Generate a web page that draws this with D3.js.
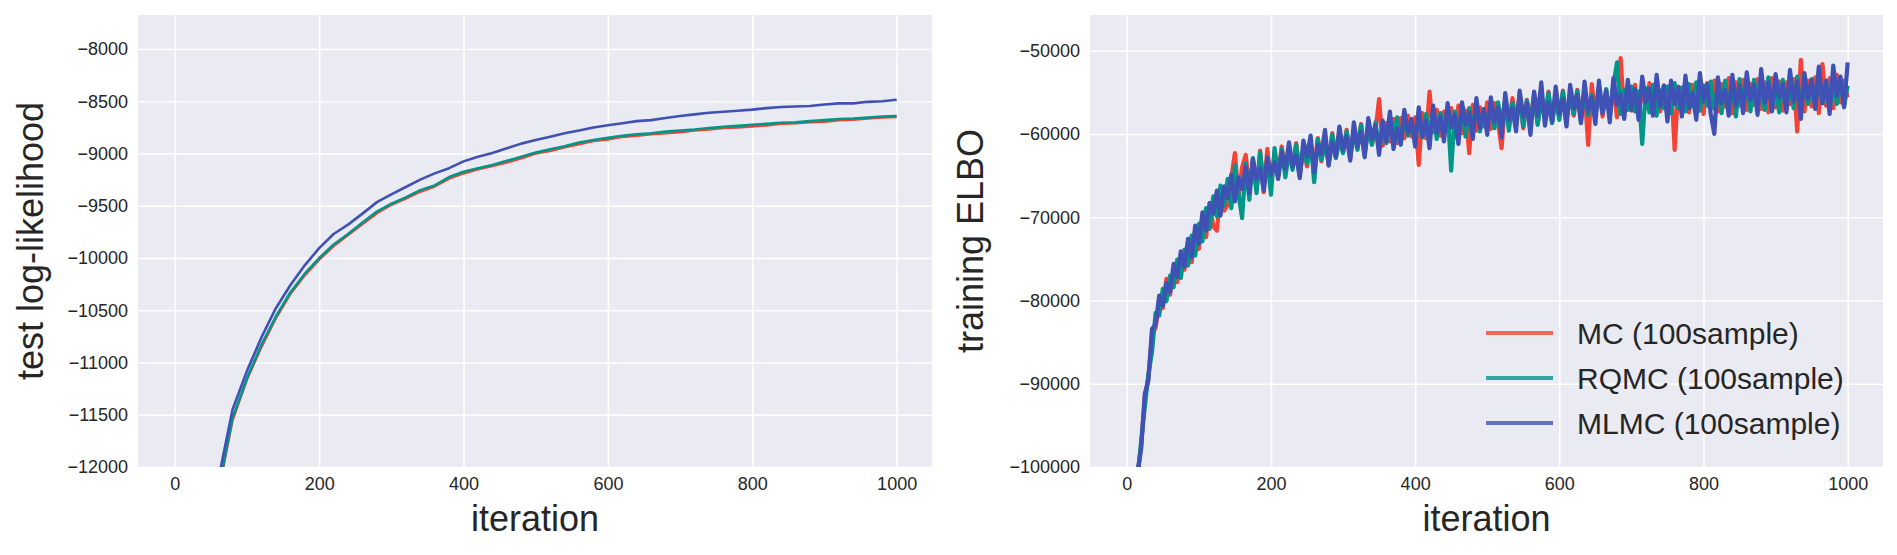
<!DOCTYPE html>
<html>
<head>
<meta charset="utf-8">
<script src="https://cdn.jsdelivr.net/npm/d3@7"></script>
<style>
body { margin: 0; background: #fff; }
svg text { font-family: "Liberation Sans", Arial, Helvetica, sans-serif; fill: #262626; }
</style>
</head>
<body>
<div id="chart"></div>
<script>

// ---- data ----
var SERIES = ["MC (100sample)", "RQMC (100sample)", "MLMC (100sample)"];
var COLORS = ["#f44336", "#009688", "#3f51b5"];
var X_TICKS = [0, 200, 400, 600, 800, 1000];

// left panel: test log-likelihood
var LL_TICKS = [-12000, -11500, -11000, -10500, -10000, -9500, -9000, -8500, -8000];
var LL_ITERS = [40, 60, 80, 100, 120, 140, 160, 180, 200, 220, 240, 260, 280, 300, 320, 340, 360, 380, 400,
  420, 440, 460, 480, 500, 520, 540, 560, 580, 600, 620, 640, 660, 680, 700, 720, 740, 760, 780, 800,
  820, 840, 860, 880, 900, 920, 940, 960, 980, 1000];
var LL_MC = [-13010, -12250, -11550, -11160, -10850, -10575, -10345, -10165, -10015, -9885, -9780, -9675, -9570,
  -9490, -9430, -9365, -9315, -9240, -9190, -9150, -9120, -9085, -9045, -9000, -8975, -8940, -8910, -8880,
  -8865, -8840, -8830, -8815, -8805, -8795, -8780, -8770, -8755, -8750, -8740, -8730, -8715, -8710, -8700,
  -8695, -8680, -8675, -8665, -8655, -8650];
var LL_RQMC = [-13000, -12230, -11530, -11150, -10830, -10560, -10330, -10150, -10000, -9870, -9770, -9660, -9555,
  -9480, -9420, -9350, -9305, -9225, -9175, -9140, -9110, -9070, -9030, -8990, -8960, -8930, -8895, -8870,
  -8850, -8830, -8815, -8805, -8790, -8780, -8770, -8755, -8745, -8735, -8725, -8715, -8705, -8700, -8690,
  -8680, -8670, -8665, -8655, -8645, -8640];
var LL_MLMC = [-12900, -12130, -11450, -11080, -10760, -10480, -10260, -10070, -9905, -9770, -9680, -9575, -9465,
  -9390, -9320, -9250, -9190, -9140, -9075, -9030, -8995, -8950, -8905, -8870, -8840, -8805, -8780, -8750,
  -8730, -8710, -8690, -8680, -8660, -8640, -8625, -8610, -8600, -8590, -8580, -8565, -8555, -8550, -8545,
  -8530, -8520, -8520, -8505, -8500, -8485];

// right panel: training ELBO, one value every 5 iterations from 10 to 1000
var ELBO_ITERS = d3.range(10, 1001, 5);
var ELBO_TICKS = [-100000, -90000, -80000, -70000, -60000, -50000];
var ELBO_MC = [
  -106300,-100900,-97400,-91600,-89200,-84100,-83300,-80200,-80900,-77400,
  -79300,-76200,-77800,-74600,-76300,-73000,-75400,-71600,-73800,-69900,
  -72400,-68300,-71100,-71600,-66900,-69200,-68500,-65200,-62300,-67600,
  -64000,-62500,-66400,-63200,-66700,-62000,-67000,-61800,-66100,-62400,
  -65100,-61500,-64600,-62300,-64100,-61100,-65000,-61600,-63900,-61200,
  -64000,-60500,-63300,-60200,-63700,-59900,-62800,-60400,-62200,-59500,
  -62900,-59400,-61700,-58800,-62300,-59100,-61200,-59600,-55800,-61400,
  -58700,-60900,-58200,-61100,-58100,-60500,-57800,-60300,-58000,-63700,
  -57500,-60500,-54900,-59800,-57100,-60200,-57300,-59700,-56900,-60400,
  -56600,-59900,-57200,-62300,-56500,-59600,-56800,-59100,-56200,-59400,
  -56300,-58700,-61700,-55800,-58900,-55700,-58600,-55400,-59300,-55900,
  -58400,-55300,-58800,-55700,-58000,-54900,-58600,-55500,-57900,-54800,
  -58300,-55100,-57800,-54700,-58200,-54600,-61300,-54000,-57600,-54400,
  -57900,-54800,-57300,-54300,-58000,-50900,-57500,-54600,-57200,-54100,
  -57600,-54400,-56900,-53900,-57700,-54000,-57300,-54200,-57800,-53800,
  -61900,-54300,-56800,-53700,-57400,-54100,-57000,-53500,-57600,-53900,
  -56900,-53600,-57300,-54000,-56700,-53300,-57500,-53800,-56600,-53500,
  -57100,-54000,-56500,-53400,-57000,-53800,-57400,-53300,-56800,-53700,
  -57200,-53800,-56400,-53400,-59700,-51100,-57300,-53600,-56700,-53200,
  -57500,-51600,-56600,-53300,-56900,-52900,-56200,-53600,-55600];
var ELBO_RQMC = [
  -105500,-101200,-96900,-92800,-88900,-86200,-81500,-81800,-78600,-80100,
  -77000,-78400,-75100,-77300,-73900,-75800,-72200,-74600,-70800,-72900,
  -68900,-71400,-67500,-69900,-66200,-68600,-65400,-68900,-63800,-67200,
  -70100,-63500,-67900,-62900,-67100,-62200,-66400,-63000,-67300,-61700,
  -64900,-61800,-65200,-62100,-64300,-61300,-64700,-61900,-63500,-60800,
  -65800,-60600,-63100,-61200,-63400,-60100,-62900,-60700,-62300,-59700,
  -62400,-59800,-61900,-58900,-62600,-59300,-61300,-58600,-61800,-59200,
  -61100,-58300,-60700,-58000,-61300,-57900,-60200,-58500,-61000,-57700,
  -60400,-57600,-60100,-57200,-60600,-57500,-59900,-57000,-64400,-57300,
  -59800,-56700,-60300,-56900,-59400,-56400,-59700,-57100,-59000,-56500,
  -59300,-56200,-58800,-55800,-59600,-56300,-58400,-55600,-59100,-56000,
  -58600,-55500,-58900,-55900,-58100,-55100,-58700,-55600,-58300,-54900,
  -58200,-55400,-57600,-54800,-58500,-55000,-57700,-55300,-58000,-54500,
  -57400,-54600,-57900,-54200,-51400,-57600,-54700,-57100,-54300,-57300,
  -54900,-61200,-54500,-57400,-54100,-57800,-54800,-56900,-54300,-57500,
  -53900,-56900,-54400,-57300,-54000,-56700,-53800,-57200,-54200,-56600,
  -53700,-57000,-54300,-57500,-53600,-56800,-54000,-57900,-53400,-56700,
  -54100,-57300,-53500,-56600,-54000,-57100,-53200,-56900,-53800,-57400,
  -53500,-56500,-54000,-56900,-53100,-57200,-53900,-56400,-53400,-56800,
  -53200,-56300,-53700,-57100,-53000,-56400,-53600,-56700,-54200];
var ELBO_MLMC = [
  -106000,-100600,-97800,-91200,-89600,-83400,-82900,-79400,-80600,-77900,
  -79000,-75600,-77200,-74100,-75900,-72600,-74800,-71000,-73200,-69400,
  -71600,-68300,-69600,-66800,-69800,-66300,-67700,-64900,-68100,-65200,
  -66600,-63900,-67100,-63000,-65400,-64100,-66800,-62800,-64900,-63400,
  -65400,-62100,-64200,-61000,-63900,-62600,-65300,-60800,-62700,-60200,
  -64600,-61300,-62400,-59500,-63800,-61000,-62700,-59100,-61900,-60300,
  -63200,-58600,-61500,-59700,-62800,-58100,-60600,-59000,-62500,-58400,
  -60900,-57300,-61800,-59300,-61200,-57100,-59900,-58200,-61500,-56800,
  -60300,-58400,-61700,-56600,-59800,-57900,-60900,-56300,-59200,-57700,
  -61200,-56200,-58900,-57400,-60600,-55700,-59300,-57000,-60100,-55600,
  -58600,-56800,-60400,-55100,-58300,-56900,-59700,-54800,-57900,-56300,
  -60100,-54900,-57800,-53800,-59000,-56200,-58500,-54300,-57600,-55800,
  -59100,-54100,-56900,-55300,-58700,-53700,-57300,-55600,-58800,-53600,
  -57500,-54800,-58600,-53300,-56500,-55200,-58200,-53500,-57100,-54600,
  -58300,-53100,-56200,-54500,-57800,-52900,-56700,-54200,-58500,-53600,
  -56400,-54400,-57900,-53000,-56900,-55100,-58300,-52700,-56100,-54000,
  -57600,-60000,-53200,-56300,-54700,-57800,-52900,-56600,-54200,-57500,
  -52600,-55900,-54100,-57700,-52200,-56200,-53800,-57300,-52800,-55600,
  -54000,-57400,-52300,-56100,-53700,-58200,-52700,-55800,-53500,-57000,
  -51900,-56300,-53600,-57600,-51800,-55400,-53100,-56800,-51400];

// ---- drawing ----
var W = 1897, H = 555;
var svg = d3.select("#chart").append("svg")
    .attr("width", W)
    .attr("height", H);

function drawPanel(p) {
  var w = p.width, h = p.height;
  var g = svg.append("g")
      .attr("transform", "translate(" + p.left + "," + p.top + ")");

  g.append("rect")
      .attr("width", w)
      .attr("height", h)
      .attr("fill", "#eaeaf2");

  var x = d3.scaleLinear().domain([-51, 1049]).range([0, w]);
  var y = d3.scaleLinear().domain(p.ydomain).range([h, 0]);

  // x axis + vertical grid
  var xa = g.append("g")
      .attr("transform", "translate(0," + h + ")")
      .call(d3.axisBottom(x).tickValues(X_TICKS).tickSize(-h).tickPadding(10).tickFormat(d3.format("d")));
  // y axis + horizontal grid
  var ya = g.append("g")
      .call(d3.axisLeft(y).tickValues(p.yticks).tickSize(-w).tickPadding(10).tickFormat(d3.format("d")));

  [xa, ya].forEach(function(a) {
    a.select(".domain").remove();
    a.selectAll(".tick line").attr("stroke", "#ffffff").attr("stroke-width", 1.6);
    a.selectAll(".tick text").attr("font-size", "18px").attr("fill", "#262626");
  });

  var clipId = "clip-" + p.name;
  g.append("clipPath").attr("id", clipId)
    .append("rect").attr("width", w).attr("height", h);

  var plot = g.append("g").attr("clip-path", "url(#" + clipId + ")");
  p.series.forEach(function(vals, k) {
    var line = d3.line()
      .x(function(d, i) { return x(p.iters[i]); })
      .y(function(d) { return y(d); });
    plot.append("path")
      .datum(vals)
      .attr("fill", "none")
      .attr("stroke", COLORS[k])
      .attr("stroke-width", p.lineWidth)
      .attr("stroke-linejoin", "round")
      .attr("d", line);
  });

  // axis titles
  svg.append("text")
      .attr("x", p.left + w / 2)
      .attr("y", 531)
      .attr("text-anchor", "middle")
      .attr("font-size", "36px")
      .text("iteration");
  svg.append("text")
      .attr("transform", "translate(" + p.ylabelX + "," + (p.top + h / 2) + ") rotate(-90)")
      .attr("text-anchor", "middle")
      .attr("font-size", "36px")
      .text(p.ylabel);

  return { g: g, x: x, y: y };
}

drawPanel({
  name: "ll", left: 138, top: 15, width: 794, height: 452,
  ydomain: [-12000, -7674], yticks: LL_TICKS,
  iters: LL_ITERS, series: [LL_MC, LL_RQMC, LL_MLMC],
  ylabel: "test log-likelihood", ylabelX: 43, lineWidth: 2.6
});

drawPanel({
  name: "elbo", left: 1090, top: 15, width: 793, height: 452,
  ydomain: [-100000, -45709], yticks: ELBO_TICKS,
  iters: ELBO_ITERS, series: [ELBO_MC, ELBO_RQMC, ELBO_MLMC],
  ylabel: "training ELBO", ylabelX: 983, lineWidth: 4.2
});

// legend (inside the right panel, lower right)
var legend = svg.append("g").attr("transform", "translate(1486,333)");
SERIES.forEach(function(name, k) {
  var row = legend.append("g").attr("transform", "translate(0," + (k * 45) + ")");
  row.append("line")
      .attr("x1", 0).attr("x2", 67)
      .attr("y1", 0).attr("y2", 0)
      .attr("stroke", COLORS[k])
      .attr("stroke-opacity", 0.8)
      .attr("stroke-width", 4);
  row.append("text")
      .attr("x", 91)
      .attr("y", 0)
      .attr("dy", "0.36em")
      .attr("font-size", "30px")
      .text(name);
});

</script>
</body>
</html>
